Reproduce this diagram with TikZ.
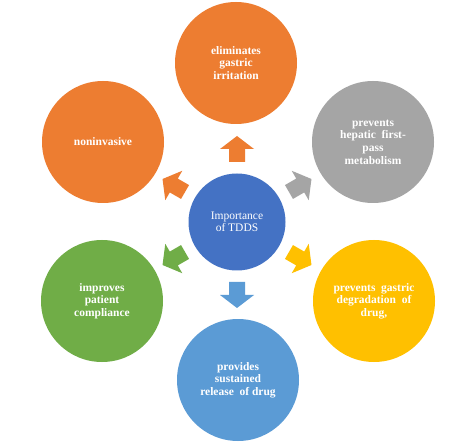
\documentclass[tikz,border=0pt]{standalone}
\usepackage{fontspec}
\setmainfont{Liberation Serif}
\definecolor{corange}{HTML}{ED7D31}
\definecolor{cgray}{HTML}{A5A5A5}
\definecolor{cyellow}{HTML}{FFC000}
\definecolor{cgreen}{HTML}{70AD47}
\definecolor{clblue}{HTML}{5B9BD5}
\definecolor{cdblue}{HTML}{4472C4}
\begin{document}
\begin{tikzpicture}[x=1pt,y=1pt,
  outer/.style={circle,minimum size=122pt,inner sep=0pt,text=white,align=center,
    font=\fontsize{11.5}{12.6}\selectfont\bfseries},
  hub/.style={circle,minimum size=97pt,inner sep=0pt,text=white,align=center,
    font=\fontsize{11.5}{12.5}\selectfont},
  blockarrow/.style={draw=none}]
\useasboundingbox (0,0) rectangle (468,-443);
\fill[white] (0,0) rectangle (468,-443);
\node[hub,fill=cdblue] (c) at (237,-222) {Importance\\of TDDS};
\node[outer,fill=corange] (t) at (236,-63) {eliminates\\gastric\\irritation};
\node[outer,fill=cgray] (ur) at (373,-142) {prevents\\hepatic\ \ first-\\pass\\metabolism};
\node[outer,fill=corange] (ul) at (103,-142) {noninvasive};
\node[outer,fill=cgreen] (ll) at (102,-301) {improves\\patient\\compliance};
\node[outer,fill=cyellow] (lr) at (374,-301) {prevents\ \ gastric\\degradation\ \ of\\drug,};
\node[outer,fill=clblue] (b) at (238,-380) {provides\\sustained\\release\ \ of drug};
\foreach \ang/\col in {90/corange,150/corange,210/cgreen,270/clblue,330/cyellow,30/cgray}{
  \begin{scope}[shift={(c.center)},rotate=\ang]
    \fill[\col,blockarrow] (60,-8) -- (73,-8) -- (73,-17) -- (86,0) -- (73,17) -- (73,8) -- (60,8) -- cycle;
  \end{scope}
}
\end{tikzpicture}
\end{document}
